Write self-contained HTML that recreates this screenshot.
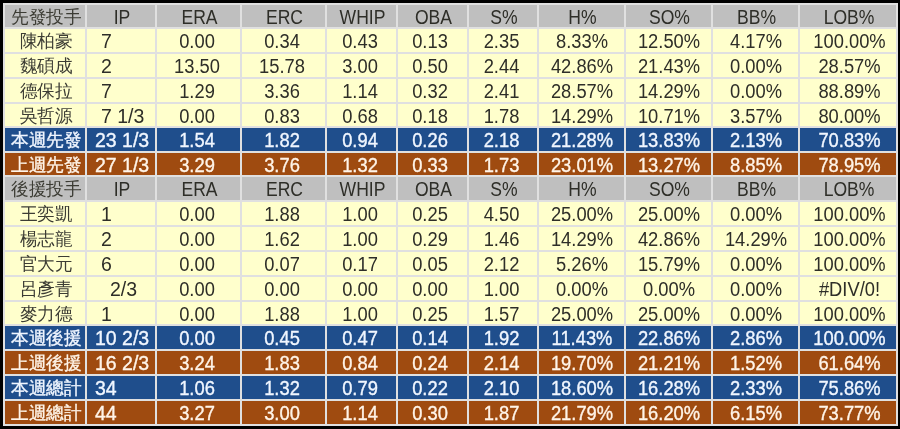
<!DOCTYPE html>
<html><head><meta charset="utf-8"><style>
html,body{margin:0;padding:0;}
body{width:900px;height:429px;background:#000;position:relative;overflow:hidden;font-family:"Liberation Sans",sans-serif;font-size:19.5px;}
.c{position:absolute;}
#w{position:absolute;left:0;top:0;width:900px;height:429px;filter:blur(0.4px);}
.t{position:absolute;text-align:center;white-space:pre;}
.k{font-size:17.5px;transform:translateX(1.3px) scaleX(0.98);}
.n{transform:translateX(0.5px) scaleX(0.94);}
.hd{transform:scaleX(0.9);}
.l{transform-origin:0 50%;transform:scaleX(1);}
.l{text-align:left;}
</style></head><body><div id="w">
<div class="c" style="left:3px;top:5px;width:893px;height:22px;background:#bfbfbf"></div>
<div class="t k" style="left:5px;top:5.5px;width:80px;line-height:22px;color:#3c3c34">先發投手</div>
<div class="t hd" style="left:88px;top:6px;width:68px;line-height:22px;color:#2e2e28">IP</div>
<div class="t hd" style="left:158px;top:6px;width:83px;line-height:22px;color:#2e2e28">ERA</div>
<div class="t hd" style="left:243px;top:6px;width:83px;line-height:22px;color:#2e2e28">ERC</div>
<div class="t hd" style="left:328px;top:6px;width:69px;line-height:22px;color:#2e2e28">WHIP</div>
<div class="t hd" style="left:399px;top:6px;width:69px;line-height:22px;color:#2e2e28">OBA</div>
<div class="t hd" style="left:470px;top:6px;width:68px;line-height:22px;color:#2e2e28">S%</div>
<div class="t hd" style="left:540px;top:6px;width:85px;line-height:22px;color:#2e2e28">H%</div>
<div class="t hd" style="left:627px;top:6px;width:85px;line-height:22px;color:#2e2e28">SO%</div>
<div class="t hd" style="left:714px;top:6px;width:85px;line-height:22px;color:#2e2e28">BB%</div>
<div class="t hd" style="left:801px;top:6px;width:96px;line-height:22px;color:#2e2e28">LOB%</div>
<div class="c" style="left:3px;top:29px;width:893px;height:23px;background:#ffffcc"></div>
<div class="t k" style="left:5px;top:29.5px;width:80px;line-height:23px;color:#3c3c34">陳柏豪</div>
<div class="t l" style="left:101px;top:30px;line-height:23px;color:#2e2e28">7</div>
<div class="t n" style="left:155px;top:30px;width:83px;line-height:23px;color:#2e2e28">0.00</div>
<div class="t n" style="left:240px;top:30px;width:83px;line-height:23px;color:#2e2e28">0.34</div>
<div class="t n" style="left:325px;top:30px;width:69px;line-height:23px;color:#2e2e28">0.43</div>
<div class="t n" style="left:395px;top:30px;width:69px;line-height:23px;color:#2e2e28">0.13</div>
<div class="t n" style="left:467px;top:30px;width:68px;line-height:23px;color:#2e2e28">2.35</div>
<div class="t n" style="left:538.5px;top:30px;width:85px;line-height:23px;color:#2e2e28">8.33%</div>
<div class="t n" style="left:625.5px;top:30px;width:85px;line-height:23px;color:#2e2e28">12.50%</div>
<div class="t n" style="left:713px;top:30px;width:85px;line-height:23px;color:#2e2e28">4.17%</div>
<div class="t n" style="left:801px;top:30px;width:96px;line-height:23px;color:#2e2e28">100.00%</div>
<div class="c" style="left:3px;top:54px;width:893px;height:23px;background:#ffffcc"></div>
<div class="t k" style="left:5px;top:54.5px;width:80px;line-height:23px;color:#3c3c34">魏碩成</div>
<div class="t l" style="left:101px;top:55px;line-height:23px;color:#2e2e28">2</div>
<div class="t n" style="left:155px;top:55px;width:83px;line-height:23px;color:#2e2e28">13.50</div>
<div class="t n" style="left:240px;top:55px;width:83px;line-height:23px;color:#2e2e28">15.78</div>
<div class="t n" style="left:325px;top:55px;width:69px;line-height:23px;color:#2e2e28">3.00</div>
<div class="t n" style="left:395px;top:55px;width:69px;line-height:23px;color:#2e2e28">0.50</div>
<div class="t n" style="left:467px;top:55px;width:68px;line-height:23px;color:#2e2e28">2.44</div>
<div class="t n" style="left:538.5px;top:55px;width:85px;line-height:23px;color:#2e2e28">42.86%</div>
<div class="t n" style="left:625.5px;top:55px;width:85px;line-height:23px;color:#2e2e28">21.43%</div>
<div class="t n" style="left:713px;top:55px;width:85px;line-height:23px;color:#2e2e28">0.00%</div>
<div class="t n" style="left:801px;top:55px;width:96px;line-height:23px;color:#2e2e28">28.57%</div>
<div class="c" style="left:3px;top:79px;width:893px;height:23px;background:#ffffcc"></div>
<div class="t k" style="left:5px;top:79.5px;width:80px;line-height:23px;color:#3c3c34">德保拉</div>
<div class="t l" style="left:101px;top:80px;line-height:23px;color:#2e2e28">7</div>
<div class="t n" style="left:155px;top:80px;width:83px;line-height:23px;color:#2e2e28">1.29</div>
<div class="t n" style="left:240px;top:80px;width:83px;line-height:23px;color:#2e2e28">3.36</div>
<div class="t n" style="left:325px;top:80px;width:69px;line-height:23px;color:#2e2e28">1.14</div>
<div class="t n" style="left:395px;top:80px;width:69px;line-height:23px;color:#2e2e28">0.32</div>
<div class="t n" style="left:467px;top:80px;width:68px;line-height:23px;color:#2e2e28">2.41</div>
<div class="t n" style="left:538.5px;top:80px;width:85px;line-height:23px;color:#2e2e28">28.57%</div>
<div class="t n" style="left:625.5px;top:80px;width:85px;line-height:23px;color:#2e2e28">14.29%</div>
<div class="t n" style="left:713px;top:80px;width:85px;line-height:23px;color:#2e2e28">0.00%</div>
<div class="t n" style="left:801px;top:80px;width:96px;line-height:23px;color:#2e2e28">88.89%</div>
<div class="c" style="left:3px;top:104px;width:893px;height:22px;background:#ffffcc"></div>
<div class="t k" style="left:5px;top:104.5px;width:80px;line-height:22px;color:#3c3c34">吳哲源</div>
<div class="t l" style="left:101px;top:105px;line-height:22px;color:#2e2e28">7 1/3</div>
<div class="t n" style="left:155px;top:105px;width:83px;line-height:22px;color:#2e2e28">0.00</div>
<div class="t n" style="left:240px;top:105px;width:83px;line-height:22px;color:#2e2e28">0.83</div>
<div class="t n" style="left:325px;top:105px;width:69px;line-height:22px;color:#2e2e28">0.68</div>
<div class="t n" style="left:395px;top:105px;width:69px;line-height:22px;color:#2e2e28">0.18</div>
<div class="t n" style="left:467px;top:105px;width:68px;line-height:22px;color:#2e2e28">1.78</div>
<div class="t n" style="left:538.5px;top:105px;width:85px;line-height:22px;color:#2e2e28">14.29%</div>
<div class="t n" style="left:625.5px;top:105px;width:85px;line-height:22px;color:#2e2e28">10.71%</div>
<div class="t n" style="left:713px;top:105px;width:85px;line-height:22px;color:#2e2e28">3.57%</div>
<div class="t n" style="left:801px;top:105px;width:96px;line-height:22px;color:#2e2e28">80.00%</div>
<div class="c" style="left:3px;top:128px;width:893px;height:23px;background:#1f4e8c"></div>
<div class="t k" style="left:5px;top:128.5px;width:80px;line-height:23px;color:#f0f6ff;-webkit-text-stroke:0.35px #f0f6ff">本週先發</div>
<div class="t l" style="left:95px;top:129px;line-height:23px;color:#f0f6ff;-webkit-text-stroke:0.35px #f0f6ff">23 1/3</div>
<div class="t n" style="left:155px;top:129px;width:83px;line-height:23px;color:#f0f6ff;-webkit-text-stroke:0.35px #f0f6ff">1.54</div>
<div class="t n" style="left:240px;top:129px;width:83px;line-height:23px;color:#f0f6ff;-webkit-text-stroke:0.35px #f0f6ff">1.82</div>
<div class="t n" style="left:325px;top:129px;width:69px;line-height:23px;color:#f0f6ff;-webkit-text-stroke:0.35px #f0f6ff">0.94</div>
<div class="t n" style="left:395px;top:129px;width:69px;line-height:23px;color:#f0f6ff;-webkit-text-stroke:0.35px #f0f6ff">0.26</div>
<div class="t n" style="left:467px;top:129px;width:68px;line-height:23px;color:#f0f6ff;-webkit-text-stroke:0.35px #f0f6ff">2.18</div>
<div class="t n" style="left:538.5px;top:129px;width:85px;line-height:23px;color:#f0f6ff;-webkit-text-stroke:0.35px #f0f6ff">21.28%</div>
<div class="t n" style="left:625.5px;top:129px;width:85px;line-height:23px;color:#f0f6ff;-webkit-text-stroke:0.35px #f0f6ff">13.83%</div>
<div class="t n" style="left:713px;top:129px;width:85px;line-height:23px;color:#f0f6ff;-webkit-text-stroke:0.35px #f0f6ff">2.13%</div>
<div class="t n" style="left:801px;top:129px;width:96px;line-height:23px;color:#f0f6ff;-webkit-text-stroke:0.35px #f0f6ff">70.83%</div>
<div class="c" style="left:3px;top:153px;width:893px;height:22px;background:#9f4b10"></div>
<div class="t k" style="left:5px;top:153.5px;width:80px;line-height:22px;color:#fff4e8;-webkit-text-stroke:0.35px #fff4e8">上週先發</div>
<div class="t l" style="left:95px;top:154px;line-height:22px;color:#fff4e8;-webkit-text-stroke:0.35px #fff4e8">27 1/3</div>
<div class="t n" style="left:155px;top:154px;width:83px;line-height:22px;color:#fff4e8;-webkit-text-stroke:0.35px #fff4e8">3.29</div>
<div class="t n" style="left:240px;top:154px;width:83px;line-height:22px;color:#fff4e8;-webkit-text-stroke:0.35px #fff4e8">3.76</div>
<div class="t n" style="left:325px;top:154px;width:69px;line-height:22px;color:#fff4e8;-webkit-text-stroke:0.35px #fff4e8">1.32</div>
<div class="t n" style="left:395px;top:154px;width:69px;line-height:22px;color:#fff4e8;-webkit-text-stroke:0.35px #fff4e8">0.33</div>
<div class="t n" style="left:467px;top:154px;width:68px;line-height:22px;color:#fff4e8;-webkit-text-stroke:0.35px #fff4e8">1.73</div>
<div class="t n" style="left:538.5px;top:154px;width:85px;line-height:22px;color:#fff4e8;-webkit-text-stroke:0.35px #fff4e8">23.01%</div>
<div class="t n" style="left:625.5px;top:154px;width:85px;line-height:22px;color:#fff4e8;-webkit-text-stroke:0.35px #fff4e8">13.27%</div>
<div class="t n" style="left:713px;top:154px;width:85px;line-height:22px;color:#fff4e8;-webkit-text-stroke:0.35px #fff4e8">8.85%</div>
<div class="t n" style="left:801px;top:154px;width:96px;line-height:22px;color:#fff4e8;-webkit-text-stroke:0.35px #fff4e8">78.95%</div>
<div class="c" style="left:3px;top:177px;width:893px;height:23px;background:#bfbfbf"></div>
<div class="t k" style="left:5px;top:177.5px;width:80px;line-height:23px;color:#3c3c34">後援投手</div>
<div class="t hd" style="left:88px;top:178px;width:68px;line-height:23px;color:#2e2e28">IP</div>
<div class="t hd" style="left:158px;top:178px;width:83px;line-height:23px;color:#2e2e28">ERA</div>
<div class="t hd" style="left:243px;top:178px;width:83px;line-height:23px;color:#2e2e28">ERC</div>
<div class="t hd" style="left:328px;top:178px;width:69px;line-height:23px;color:#2e2e28">WHIP</div>
<div class="t hd" style="left:399px;top:178px;width:69px;line-height:23px;color:#2e2e28">OBA</div>
<div class="t hd" style="left:470px;top:178px;width:68px;line-height:23px;color:#2e2e28">S%</div>
<div class="t hd" style="left:540px;top:178px;width:85px;line-height:23px;color:#2e2e28">H%</div>
<div class="t hd" style="left:627px;top:178px;width:85px;line-height:23px;color:#2e2e28">SO%</div>
<div class="t hd" style="left:714px;top:178px;width:85px;line-height:23px;color:#2e2e28">BB%</div>
<div class="t hd" style="left:801px;top:178px;width:96px;line-height:23px;color:#2e2e28">LOB%</div>
<div class="c" style="left:3px;top:202px;width:893px;height:23px;background:#ffffcc"></div>
<div class="t k" style="left:5px;top:202.5px;width:80px;line-height:23px;color:#3c3c34">王奕凱</div>
<div class="t l" style="left:101px;top:203px;line-height:23px;color:#2e2e28">1</div>
<div class="t n" style="left:155px;top:203px;width:83px;line-height:23px;color:#2e2e28">0.00</div>
<div class="t n" style="left:240px;top:203px;width:83px;line-height:23px;color:#2e2e28">1.88</div>
<div class="t n" style="left:325px;top:203px;width:69px;line-height:23px;color:#2e2e28">1.00</div>
<div class="t n" style="left:395px;top:203px;width:69px;line-height:23px;color:#2e2e28">0.25</div>
<div class="t n" style="left:467px;top:203px;width:68px;line-height:23px;color:#2e2e28">4.50</div>
<div class="t n" style="left:538.5px;top:203px;width:85px;line-height:23px;color:#2e2e28">25.00%</div>
<div class="t n" style="left:625.5px;top:203px;width:85px;line-height:23px;color:#2e2e28">25.00%</div>
<div class="t n" style="left:713px;top:203px;width:85px;line-height:23px;color:#2e2e28">0.00%</div>
<div class="t n" style="left:801px;top:203px;width:96px;line-height:23px;color:#2e2e28">100.00%</div>
<div class="c" style="left:3px;top:227px;width:893px;height:23px;background:#ffffcc"></div>
<div class="t k" style="left:5px;top:227.5px;width:80px;line-height:23px;color:#3c3c34">楊志龍</div>
<div class="t l" style="left:101px;top:228px;line-height:23px;color:#2e2e28">2</div>
<div class="t n" style="left:155px;top:228px;width:83px;line-height:23px;color:#2e2e28">0.00</div>
<div class="t n" style="left:240px;top:228px;width:83px;line-height:23px;color:#2e2e28">1.62</div>
<div class="t n" style="left:325px;top:228px;width:69px;line-height:23px;color:#2e2e28">1.00</div>
<div class="t n" style="left:395px;top:228px;width:69px;line-height:23px;color:#2e2e28">0.29</div>
<div class="t n" style="left:467px;top:228px;width:68px;line-height:23px;color:#2e2e28">1.46</div>
<div class="t n" style="left:538.5px;top:228px;width:85px;line-height:23px;color:#2e2e28">14.29%</div>
<div class="t n" style="left:625.5px;top:228px;width:85px;line-height:23px;color:#2e2e28">42.86%</div>
<div class="t n" style="left:713px;top:228px;width:85px;line-height:23px;color:#2e2e28">14.29%</div>
<div class="t n" style="left:801px;top:228px;width:96px;line-height:23px;color:#2e2e28">100.00%</div>
<div class="c" style="left:3px;top:252px;width:893px;height:23px;background:#ffffcc"></div>
<div class="t k" style="left:5px;top:252.5px;width:80px;line-height:23px;color:#3c3c34">官大元</div>
<div class="t l" style="left:101px;top:253px;line-height:23px;color:#2e2e28">6</div>
<div class="t n" style="left:155px;top:253px;width:83px;line-height:23px;color:#2e2e28">0.00</div>
<div class="t n" style="left:240px;top:253px;width:83px;line-height:23px;color:#2e2e28">0.07</div>
<div class="t n" style="left:325px;top:253px;width:69px;line-height:23px;color:#2e2e28">0.17</div>
<div class="t n" style="left:395px;top:253px;width:69px;line-height:23px;color:#2e2e28">0.05</div>
<div class="t n" style="left:467px;top:253px;width:68px;line-height:23px;color:#2e2e28">2.12</div>
<div class="t n" style="left:538.5px;top:253px;width:85px;line-height:23px;color:#2e2e28">5.26%</div>
<div class="t n" style="left:625.5px;top:253px;width:85px;line-height:23px;color:#2e2e28">15.79%</div>
<div class="t n" style="left:713px;top:253px;width:85px;line-height:23px;color:#2e2e28">0.00%</div>
<div class="t n" style="left:801px;top:253px;width:96px;line-height:23px;color:#2e2e28">100.00%</div>
<div class="c" style="left:3px;top:277px;width:893px;height:23px;background:#ffffcc"></div>
<div class="t k" style="left:5px;top:277.5px;width:80px;line-height:23px;color:#3c3c34">呂彥青</div>
<div class="t l" style="left:110px;top:278px;line-height:23px;color:#2e2e28">2/3</div>
<div class="t n" style="left:155px;top:278px;width:83px;line-height:23px;color:#2e2e28">0.00</div>
<div class="t n" style="left:240px;top:278px;width:83px;line-height:23px;color:#2e2e28">0.00</div>
<div class="t n" style="left:325px;top:278px;width:69px;line-height:23px;color:#2e2e28">0.00</div>
<div class="t n" style="left:395px;top:278px;width:69px;line-height:23px;color:#2e2e28">0.00</div>
<div class="t n" style="left:467px;top:278px;width:68px;line-height:23px;color:#2e2e28">1.00</div>
<div class="t n" style="left:538.5px;top:278px;width:85px;line-height:23px;color:#2e2e28">0.00%</div>
<div class="t n" style="left:625.5px;top:278px;width:85px;line-height:23px;color:#2e2e28">0.00%</div>
<div class="t n" style="left:713px;top:278px;width:85px;line-height:23px;color:#2e2e28">0.00%</div>
<div class="t n" style="left:801px;top:278px;width:96px;line-height:23px;color:#2e2e28">#DIV/0!</div>
<div class="c" style="left:3px;top:302px;width:893px;height:22px;background:#ffffcc"></div>
<div class="t k" style="left:5px;top:302.5px;width:80px;line-height:22px;color:#3c3c34">麥力德</div>
<div class="t l" style="left:101px;top:303px;line-height:22px;color:#2e2e28">1</div>
<div class="t n" style="left:155px;top:303px;width:83px;line-height:22px;color:#2e2e28">0.00</div>
<div class="t n" style="left:240px;top:303px;width:83px;line-height:22px;color:#2e2e28">1.88</div>
<div class="t n" style="left:325px;top:303px;width:69px;line-height:22px;color:#2e2e28">1.00</div>
<div class="t n" style="left:395px;top:303px;width:69px;line-height:22px;color:#2e2e28">0.25</div>
<div class="t n" style="left:467px;top:303px;width:68px;line-height:22px;color:#2e2e28">1.57</div>
<div class="t n" style="left:538.5px;top:303px;width:85px;line-height:22px;color:#2e2e28">25.00%</div>
<div class="t n" style="left:625.5px;top:303px;width:85px;line-height:22px;color:#2e2e28">25.00%</div>
<div class="t n" style="left:713px;top:303px;width:85px;line-height:22px;color:#2e2e28">0.00%</div>
<div class="t n" style="left:801px;top:303px;width:96px;line-height:22px;color:#2e2e28">100.00%</div>
<div class="c" style="left:3px;top:326px;width:893px;height:23px;background:#1f4e8c"></div>
<div class="t k" style="left:5px;top:326.5px;width:80px;line-height:23px;color:#f0f6ff;-webkit-text-stroke:0.35px #f0f6ff">本週後援</div>
<div class="t l" style="left:95px;top:327px;line-height:23px;color:#f0f6ff;-webkit-text-stroke:0.35px #f0f6ff">10 2/3</div>
<div class="t n" style="left:155px;top:327px;width:83px;line-height:23px;color:#f0f6ff;-webkit-text-stroke:0.35px #f0f6ff">0.00</div>
<div class="t n" style="left:240px;top:327px;width:83px;line-height:23px;color:#f0f6ff;-webkit-text-stroke:0.35px #f0f6ff">0.45</div>
<div class="t n" style="left:325px;top:327px;width:69px;line-height:23px;color:#f0f6ff;-webkit-text-stroke:0.35px #f0f6ff">0.47</div>
<div class="t n" style="left:395px;top:327px;width:69px;line-height:23px;color:#f0f6ff;-webkit-text-stroke:0.35px #f0f6ff">0.14</div>
<div class="t n" style="left:467px;top:327px;width:68px;line-height:23px;color:#f0f6ff;-webkit-text-stroke:0.35px #f0f6ff">1.92</div>
<div class="t n" style="left:538.5px;top:327px;width:85px;line-height:23px;color:#f0f6ff;-webkit-text-stroke:0.35px #f0f6ff">11.43%</div>
<div class="t n" style="left:625.5px;top:327px;width:85px;line-height:23px;color:#f0f6ff;-webkit-text-stroke:0.35px #f0f6ff">22.86%</div>
<div class="t n" style="left:713px;top:327px;width:85px;line-height:23px;color:#f0f6ff;-webkit-text-stroke:0.35px #f0f6ff">2.86%</div>
<div class="t n" style="left:801px;top:327px;width:96px;line-height:23px;color:#f0f6ff;-webkit-text-stroke:0.35px #f0f6ff">100.00%</div>
<div class="c" style="left:3px;top:351px;width:893px;height:23px;background:#9f4b10"></div>
<div class="t k" style="left:5px;top:351.5px;width:80px;line-height:23px;color:#fff4e8;-webkit-text-stroke:0.35px #fff4e8">上週後援</div>
<div class="t l" style="left:95px;top:352px;line-height:23px;color:#fff4e8;-webkit-text-stroke:0.35px #fff4e8">16 2/3</div>
<div class="t n" style="left:155px;top:352px;width:83px;line-height:23px;color:#fff4e8;-webkit-text-stroke:0.35px #fff4e8">3.24</div>
<div class="t n" style="left:240px;top:352px;width:83px;line-height:23px;color:#fff4e8;-webkit-text-stroke:0.35px #fff4e8">1.83</div>
<div class="t n" style="left:325px;top:352px;width:69px;line-height:23px;color:#fff4e8;-webkit-text-stroke:0.35px #fff4e8">0.84</div>
<div class="t n" style="left:395px;top:352px;width:69px;line-height:23px;color:#fff4e8;-webkit-text-stroke:0.35px #fff4e8">0.24</div>
<div class="t n" style="left:467px;top:352px;width:68px;line-height:23px;color:#fff4e8;-webkit-text-stroke:0.35px #fff4e8">2.14</div>
<div class="t n" style="left:538.5px;top:352px;width:85px;line-height:23px;color:#fff4e8;-webkit-text-stroke:0.35px #fff4e8">19.70%</div>
<div class="t n" style="left:625.5px;top:352px;width:85px;line-height:23px;color:#fff4e8;-webkit-text-stroke:0.35px #fff4e8">21.21%</div>
<div class="t n" style="left:713px;top:352px;width:85px;line-height:23px;color:#fff4e8;-webkit-text-stroke:0.35px #fff4e8">1.52%</div>
<div class="t n" style="left:801px;top:352px;width:96px;line-height:23px;color:#fff4e8;-webkit-text-stroke:0.35px #fff4e8">61.64%</div>
<div class="c" style="left:3px;top:376px;width:893px;height:23px;background:#1f4e8c"></div>
<div class="t k" style="left:5px;top:376.5px;width:80px;line-height:23px;color:#f0f6ff;-webkit-text-stroke:0.35px #f0f6ff">本週總計</div>
<div class="t l" style="left:95px;top:377px;line-height:23px;color:#f0f6ff;-webkit-text-stroke:0.35px #f0f6ff">34</div>
<div class="t n" style="left:155px;top:377px;width:83px;line-height:23px;color:#f0f6ff;-webkit-text-stroke:0.35px #f0f6ff">1.06</div>
<div class="t n" style="left:240px;top:377px;width:83px;line-height:23px;color:#f0f6ff;-webkit-text-stroke:0.35px #f0f6ff">1.32</div>
<div class="t n" style="left:325px;top:377px;width:69px;line-height:23px;color:#f0f6ff;-webkit-text-stroke:0.35px #f0f6ff">0.79</div>
<div class="t n" style="left:395px;top:377px;width:69px;line-height:23px;color:#f0f6ff;-webkit-text-stroke:0.35px #f0f6ff">0.22</div>
<div class="t n" style="left:467px;top:377px;width:68px;line-height:23px;color:#f0f6ff;-webkit-text-stroke:0.35px #f0f6ff">2.10</div>
<div class="t n" style="left:538.5px;top:377px;width:85px;line-height:23px;color:#f0f6ff;-webkit-text-stroke:0.35px #f0f6ff">18.60%</div>
<div class="t n" style="left:625.5px;top:377px;width:85px;line-height:23px;color:#f0f6ff;-webkit-text-stroke:0.35px #f0f6ff">16.28%</div>
<div class="t n" style="left:713px;top:377px;width:85px;line-height:23px;color:#f0f6ff;-webkit-text-stroke:0.35px #f0f6ff">2.33%</div>
<div class="t n" style="left:801px;top:377px;width:96px;line-height:23px;color:#f0f6ff;-webkit-text-stroke:0.35px #f0f6ff">75.86%</div>
<div class="c" style="left:3px;top:401px;width:893px;height:23px;background:#9f4b10"></div>
<div class="t k" style="left:5px;top:401.5px;width:80px;line-height:23px;color:#fff4e8;-webkit-text-stroke:0.35px #fff4e8">上週總計</div>
<div class="t l" style="left:95px;top:402px;line-height:23px;color:#fff4e8;-webkit-text-stroke:0.35px #fff4e8">44</div>
<div class="t n" style="left:155px;top:402px;width:83px;line-height:23px;color:#fff4e8;-webkit-text-stroke:0.35px #fff4e8">3.27</div>
<div class="t n" style="left:240px;top:402px;width:83px;line-height:23px;color:#fff4e8;-webkit-text-stroke:0.35px #fff4e8">3.00</div>
<div class="t n" style="left:325px;top:402px;width:69px;line-height:23px;color:#fff4e8;-webkit-text-stroke:0.35px #fff4e8">1.14</div>
<div class="t n" style="left:395px;top:402px;width:69px;line-height:23px;color:#fff4e8;-webkit-text-stroke:0.35px #fff4e8">0.30</div>
<div class="t n" style="left:467px;top:402px;width:68px;line-height:23px;color:#fff4e8;-webkit-text-stroke:0.35px #fff4e8">1.87</div>
<div class="t n" style="left:538.5px;top:402px;width:85px;line-height:23px;color:#fff4e8;-webkit-text-stroke:0.35px #fff4e8">21.79%</div>
<div class="t n" style="left:625.5px;top:402px;width:85px;line-height:23px;color:#fff4e8;-webkit-text-stroke:0.35px #fff4e8">16.20%</div>
<div class="t n" style="left:713px;top:402px;width:85px;line-height:23px;color:#fff4e8;-webkit-text-stroke:0.35px #fff4e8">6.15%</div>
<div class="t n" style="left:801px;top:402px;width:96px;line-height:23px;color:#fff4e8;-webkit-text-stroke:0.35px #fff4e8">73.77%</div>
<div class="c" style="left:3px;top:3px;width:2px;height:423px;background:#e0e0e0"></div>
<div class="c" style="left:85px;top:3px;width:2px;height:423px;background:#e0e0e0"></div>
<div class="c" style="left:155px;top:3px;width:2px;height:423px;background:#e0e0e0"></div>
<div class="c" style="left:240px;top:3px;width:2px;height:423px;background:#e0e0e0"></div>
<div class="c" style="left:325px;top:3px;width:2px;height:423px;background:#e0e0e0"></div>
<div class="c" style="left:396px;top:3px;width:2px;height:423px;background:#e0e0e0"></div>
<div class="c" style="left:467px;top:3px;width:2px;height:423px;background:#e0e0e0"></div>
<div class="c" style="left:537px;top:3px;width:2px;height:423px;background:#e0e0e0"></div>
<div class="c" style="left:624px;top:3px;width:2px;height:423px;background:#e0e0e0"></div>
<div class="c" style="left:711px;top:3px;width:2px;height:423px;background:#e0e0e0"></div>
<div class="c" style="left:798px;top:3px;width:2px;height:423px;background:#e0e0e0"></div>
<div class="c" style="left:896px;top:3px;width:2px;height:423px;background:#e0e0e0"></div>
<div class="c" style="left:3px;top:3px;width:895px;height:2px;background:#e0e0e0"></div>
<div class="c" style="left:3px;top:27px;width:895px;height:2px;background:#e0e0e0"></div>
<div class="c" style="left:3px;top:52px;width:895px;height:2px;background:#e0e0e0"></div>
<div class="c" style="left:3px;top:77px;width:895px;height:2px;background:#e0e0e0"></div>
<div class="c" style="left:3px;top:102px;width:895px;height:2px;background:#e0e0e0"></div>
<div class="c" style="left:3px;top:126px;width:895px;height:2px;background:#e0e0e0"></div>
<div class="c" style="left:3px;top:151px;width:895px;height:2px;background:#e0e0e0"></div>
<div class="c" style="left:3px;top:175px;width:895px;height:2px;background:#e0e0e0"></div>
<div class="c" style="left:3px;top:200px;width:895px;height:2px;background:#e0e0e0"></div>
<div class="c" style="left:3px;top:225px;width:895px;height:2px;background:#e0e0e0"></div>
<div class="c" style="left:3px;top:250px;width:895px;height:2px;background:#e0e0e0"></div>
<div class="c" style="left:3px;top:275px;width:895px;height:2px;background:#e0e0e0"></div>
<div class="c" style="left:3px;top:300px;width:895px;height:2px;background:#e0e0e0"></div>
<div class="c" style="left:3px;top:324px;width:895px;height:2px;background:#e0e0e0"></div>
<div class="c" style="left:3px;top:349px;width:895px;height:2px;background:#e0e0e0"></div>
<div class="c" style="left:3px;top:374px;width:895px;height:2px;background:#e0e0e0"></div>
<div class="c" style="left:3px;top:399px;width:895px;height:2px;background:#e0e0e0"></div>
<div class="c" style="left:3px;top:424px;width:895px;height:2px;background:#e0e0e0"></div>
</div></body></html>
